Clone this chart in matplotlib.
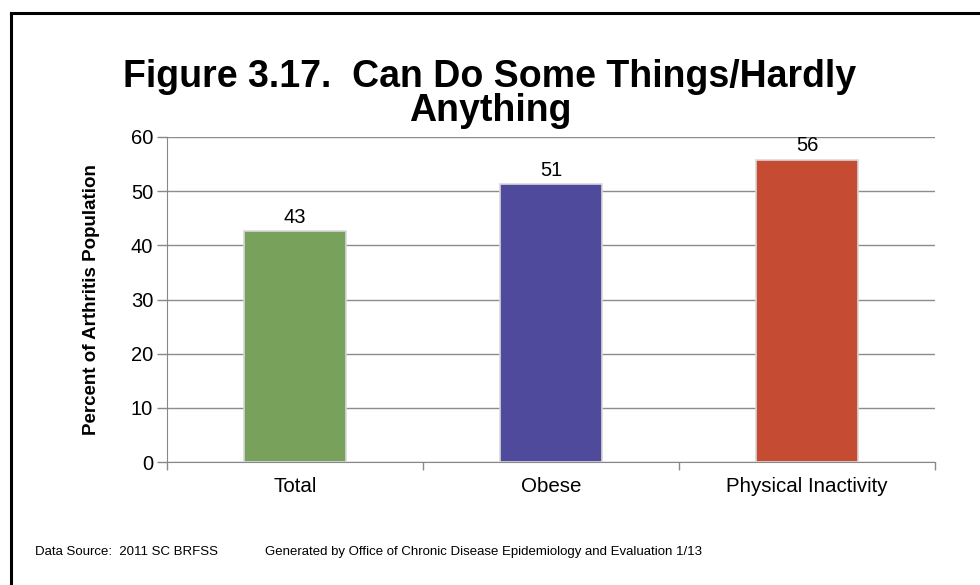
import matplotlib
matplotlib.use("Agg")
import matplotlib.pyplot as plt
from matplotlib.lines import Line2D

categories = ['Total', 'Obese', 'Physical Inactivity']
values = [42.6, 51.3, 55.8]
colors = ['#78A25B', '#4F4A9B', '#C64B33']
yticks = [0, 10, 20, 30, 40, 50, 60]

plt.rcParams['font.family'] = ['Liberation Sans', 'DejaVu Sans']

fig = plt.figure(figsize=(9.8, 5.85), dpi=100)
ax = fig.add_axes([167 / 980, 1 - 462 / 585, (935 - 167) / 980, (462 - 137) / 585])

x = range(len(categories))
bars = ax.bar(x, values, width=0.4, color=colors, edgecolor='#d8d8d8', linewidth=1.2, zorder=3)
for b, v in zip(bars, values):
    ax.text(b.get_x() + b.get_width() / 2, v + 0.8, '%.0f' % v,
            ha='center', va='bottom', fontsize=14.5)

ax.set_xlim(-0.5, len(categories) - 0.5)
ax.set_ylim(0, 60)
ax.set_yticks(yticks)
ax.set_xticks(list(x))
ax.set_xticklabels(categories, fontsize=14.8)
ax.tick_params(axis='y', labelsize=14.5, length=7, color='#888888', width=1, pad=3)
ax.tick_params(axis='x', length=0, pad=11)
# category boundary ticks on x axis
ax.set_xticks([-0.5, 0.5, 1.5, 2.5], minor=True)
ax.tick_params(axis='x', which='minor', length=6, color='#888888', width=1)
ax.yaxis.grid(True, color='#8c8c8c', linewidth=1, zorder=0)
for s in ['top', 'right']:
    ax.spines[s].set_visible(False)
ax.spines['left'].set_color('#888888')
ax.spines['bottom'].set_color('#888888')

fig.text(92 / 980, 1 - 300 / 585, 'Percent of Arthritis Population', rotation=90,
         ha='center', va='center', fontsize=13.5, fontweight='bold',
         family=['Liberation Sans Narrow', 'Liberation Sans'])

fig.text(490 / 980, 1 - 94 / 585, 'Figure 3.17.  Can Do Some Things/Hardly\nAnything',
         ha='center', va='center', fontsize=27, fontweight='bold', linespacing=0.95)

fig.text(35 / 980, 1 - 552 / 585, 'Data Source:  2011 SC BRFSS', fontsize=9.5, va='center')
fig.text(265 / 980, 1 - 552 / 585,
         'Generated by Office of Chronic Disease Epidemiology and Evaluation 1/13',
         fontsize=9.5, va='center')

# frame lines (top and left)
fig.add_artist(Line2D([11 / 980, 11 / 980], [0, 1 - 13 / 585], color='black', linewidth=2.2,
                      transform=fig.transFigure))
fig.add_artist(Line2D([11 / 980, 1], [1 - 13 / 585, 1 - 13 / 585], color='black', linewidth=2.2,
                      transform=fig.transFigure))

fig.savefig('out.png', dpi=100)
